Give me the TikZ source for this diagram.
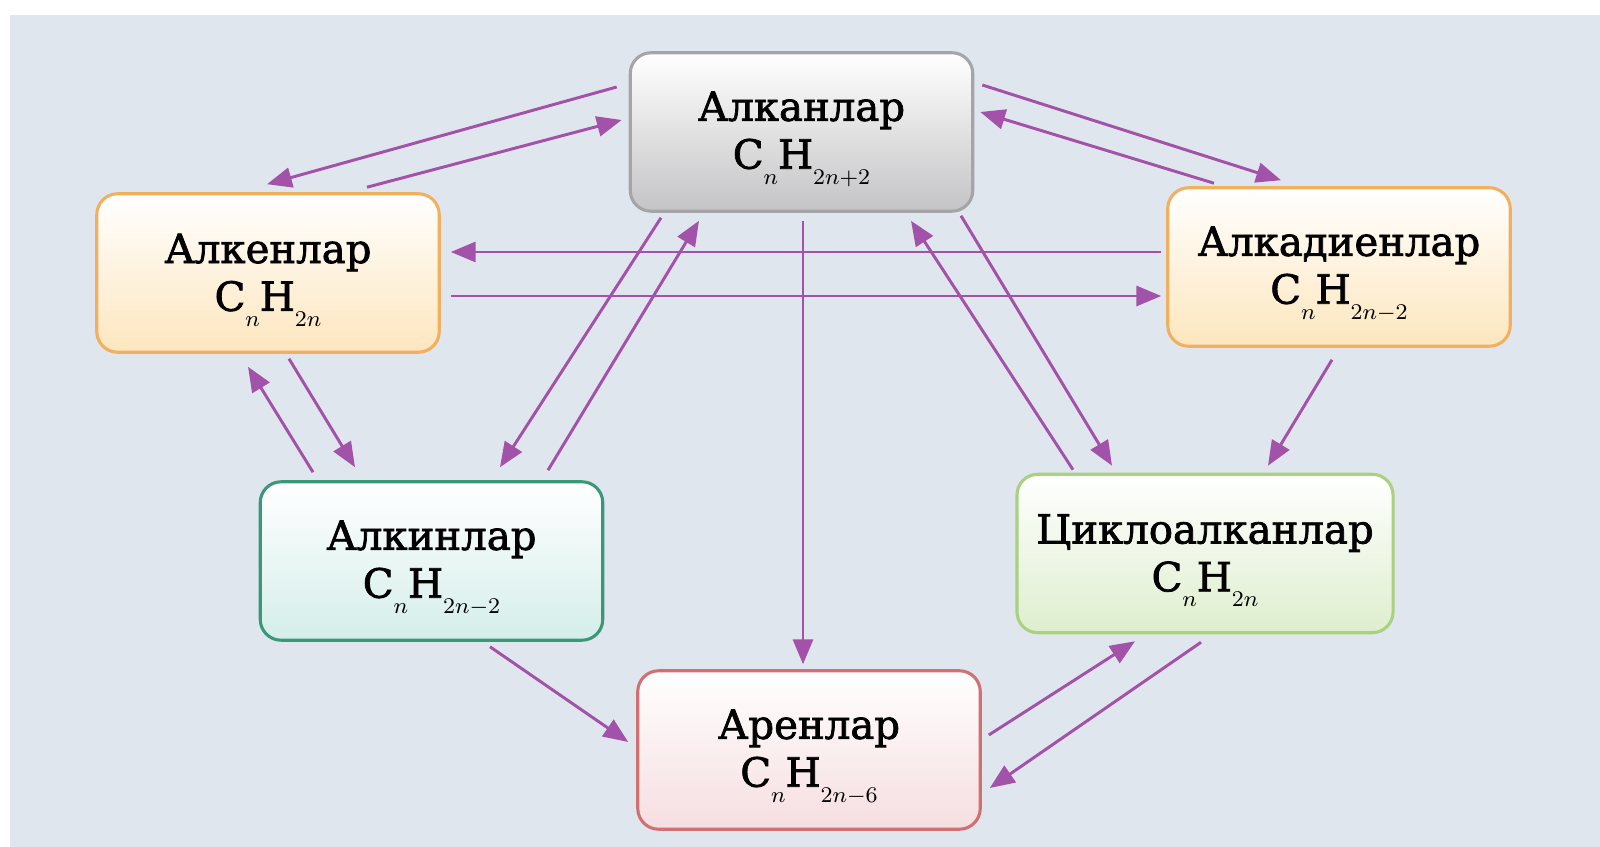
\documentclass[tikz,border=0pt]{standalone}
\usepackage{fontspec}
\setmainfont{DejaVu Serif}
\newfontfamily\groupfont{DejaVu Serif}[FakeBold=1.8]
\usepackage{xcolor}
\usepackage{tikz}
\usetikzlibrary{arrows.meta, positioning, calc}

\definecolor{panelbg}{RGB}{224,230,238}
\definecolor{arrowpurple}{RGB}{163,82,170}
\definecolor{alkanedge}{RGB}{165,165,168}
\definecolor{alkanfill}{RGB}{196,196,198}
\definecolor{alkenedge}{RGB}{240,176,96}
\definecolor{alkenfill}{RGB}{253,230,190}
\definecolor{alkinedge}{RGB}{58,152,118}
\definecolor{alkinfill}{RGB}{212,238,234}
\definecolor{cycloedge}{RGB}{170,208,128}
\definecolor{cyclofill}{RGB}{222,238,206}
\definecolor{arenedge}{RGB}{208,112,114}
\definecolor{arenfill}{RGB}{246,222,224}

\newcommand{\lowsub}[1]{\raisebox{-5.5pt}{\fontsize{8.5}{8.5}\selectfont$#1$}}
\newcommand{\grouptext}[2]{\rule{0pt}{15.4pt}#1\\#2}

\tikzset{
  group/.style={rectangle, rounded corners=2.6mm, line width=1.1pt,
    minimum width=4.28cm, minimum height=1.98cm, align=center,
    font=\groupfont\fontsize{14.3}{17}\selectfont, inner sep=2pt},
  arr/.style={draw=arrowpurple, line width=1.05pt,
    -{Triangle[length=3.1mm,width=2.5mm]}}
}

\begin{document}
\begin{tikzpicture}[x=0.0125cm, y=-0.0125cm]
  \useasboundingbox (0,0) rectangle (1600,847);
  \fill[panelbg] (10,15) rectangle (1600,847);

  % classes of hydrocarbons
  \node[group, draw=alkanedge, top color=white, bottom color=alkanfill] (alkan) at (801.5,132) {\grouptext{Алканлар}{C\lowsub{n}H\lowsub{2n{+}2}}};
  \node[group, draw=alkenedge, top color=white, bottom color=alkenfill] (alken) at (268,273) {\grouptext{Алкенлар}{C\lowsub{n}H\lowsub{2n}}};
  \node[group, draw=alkenedge, top color=white, bottom color=alkenfill] (alkad) at (1339,267) {\grouptext{Алкадиенлар}{C\lowsub{n}H\lowsub{2n{-}2}}};
  \node[group, draw=alkinedge, top color=white, bottom color=alkinfill] (alkin) at (431.5,561) {\grouptext{Алкинлар}{C\lowsub{n}H\lowsub{2n{-}2}}};
  \node[group, draw=cycloedge, top color=white, bottom color=cyclofill, minimum width=4.7cm] (cyclo) at (1205,553.5) {\grouptext{Циклоалканлар}{C\lowsub{n}H\lowsub{2n}}};
  \node[group, draw=arenedge, top color=white, bottom color=arenfill] (aren) at (809,750) {\grouptext{Аренлар}{C\lowsub{n}H\lowsub{2n{-}6}}};

  % transformations
  \draw[arr] ($(alkan.west)+(-12,-45)$) -- ($(alken.north)+(-1,-8)$);
  \draw[arr] ($(alken.north)+(99,-5)$) -- ($(alkan.west)+(-7,-12)$);
  \draw[arr] ($(alkan.east)+(8,-47)$) -- ($(alkad.north)+(-58,-6)$);
  \draw[arr] ($(alkad.north)+(-125,-3)$) -- ($(alkan.east)+(6,-20)$);
  \draw[arr] ($(alkad.west)+(-5,-15)$) -- ($(alken.east)+(10,-21)$);
  \draw[arr] ($(alken.east)+(10,23)$) -- ($(alkad.west)+(-5,29)$);
  \draw[arr] ($(alkan.south)+(-140.5,5)$) -- ($(alkin.north)+(68.5,-13)$);
  \draw[arr] ($(alkin.north)+(116.5,-10)$) -- ($(alkan.south)+(-102.5,8)$);
  \draw[arr] ($(alkan.south)+(1.5,8)$) -- ($(aren.north)+(-6,-5)$);
  \draw[arr] ($(cyclo.north)+(-132,-3)$) -- ($(alkan.south)+(109.5,8)$);
  \draw[arr] ($(alkan.south)+(159.5,3)$) -- ($(cyclo.north)+(-93,-7)$);
  \draw[arr] ($(alkad.south)+(-7,12)$) -- ($(cyclo.north)+(63,-7)$);
  \draw[arr] ($(alken.south)+(21,5)$) -- ($(alkin.north)+(-76.5,-13)$);
  \draw[arr] ($(alkin.north)+(-118.5,-8)$) -- ($(alken.south)+(-20,13)$);
  \draw[arr] ($(alkin.south)+(58.5,5)$) -- ($(aren.west)+(-8,-8)$);
  \draw[arr] ($(aren.east)+(7,-15)$) -- ($(cyclo.south)+(-70,7)$);
  \draw[arr] ($(cyclo.south)+(-4,8)$) -- ($(aren.east)+(8,38)$);
\end{tikzpicture}
\end{document}
